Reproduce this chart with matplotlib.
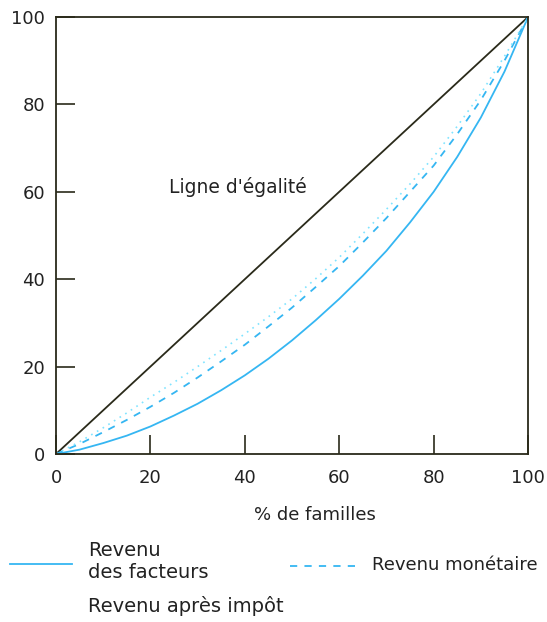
import matplotlib
matplotlib.use("Agg")
import matplotlib.pyplot as plt
from matplotlib.lines import Line2D

plt.rcParams['font.family'] = ['DejaVu Sans']

# Data (cumulative % of families vs cumulative % of income)
pct_familles = [0, 5, 10, 15, 20, 25, 30, 35, 40, 45, 50,
                55, 60, 65, 70, 75, 80, 85, 90, 95, 100]
egalite = [0, 100]
egalite_x = [0, 100]
revenu_facteurs = [0, 1, 2.5, 4.2, 6.3, 8.8, 11.5, 14.6, 18, 21.8, 26,
                   30.6, 35.5, 40.8, 46.5, 53, 60, 68, 77, 87.5, 100]
revenu_monetaire = [0, 2.3, 5, 7.8, 10.8, 14, 17.5, 21.2, 25, 29.2, 33.5,
                    38.2, 43, 48.4, 54, 60, 66, 73.2, 81, 90, 100]
revenu_apres_impot = [0, 2.8, 6, 9.4, 13, 16.4, 20, 23.7, 27.5, 31.4, 35.5,
                      40.1, 45, 50.4, 56, 61.8, 68, 75, 82.5, 91, 100]
ticks = [0, 20, 40, 60, 80, 100]

fig = plt.figure(figsize=(5.47, 6.22), dpi=100)
ax = fig.add_axes([0.1024, 0.2701, 0.863, 0.7026])

dark = '#2a2a1a'
blue = '#35b6f2'
light = '#80e4ff'
txt = '#222222'

ax.plot(egalite_x, egalite, color=dark, lw=1.3)
ax.plot(pct_familles, revenu_facteurs, color=blue, lw=1.3)
ax.plot(pct_familles, revenu_monetaire, color=blue, lw=1.3, ls=(0, (4, 4)))
ax.plot(pct_familles, revenu_apres_impot, color=light, lw=1.2, ls=(0, (1, 3)))

ax.set_xlim(0, 100)
ax.set_ylim(0, 100)
ax.set_xticks(ticks)
ax.set_yticks(ticks)
ax.tick_params(direction='in', length=14, width=1.2, color=dark,
               labelsize=13, labelcolor=txt)
ax.tick_params(axis='x', pad=11)
ax.tick_params(axis='y', pad=8)
for s in ax.spines.values():
    s.set_color(dark)
    s.set_linewidth(1.3)

ax.text(24, 61, "Ligne d'égalité", fontsize=13.5, color=txt,
        va='center', ha='left')

fig.text(315 / 547, 1 - 515 / 622, "% de familles", fontsize=13,
         color=txt, ha='center', va='center')

# Legend drawn manually below the plot
fig.add_artist(Line2D([10 / 547, 72 / 547], [1 - 564 / 622] * 2,
                      color=blue, lw=1.3))
fig.text(88 / 547, 1 - 561 / 622, "Revenu\ndes facteurs", fontsize=14,
         color=txt, ha='left', va='center', linespacing=1.2)
fig.add_artist(Line2D([290 / 547, 358 / 547], [1 - 566 / 622] * 2,
                      color=blue, lw=1.3, ls=(0, (4, 4))))
fig.text(372 / 547, 1 - 565 / 622, "Revenu monétaire", fontsize=13,
         color=txt, ha='left', va='center')
fig.text(88 / 547, 1 - 606 / 622, "Revenu après impôt", fontsize=14,
         color=txt, ha='left', va='center')

fig.savefig("out.png", dpi=100)
